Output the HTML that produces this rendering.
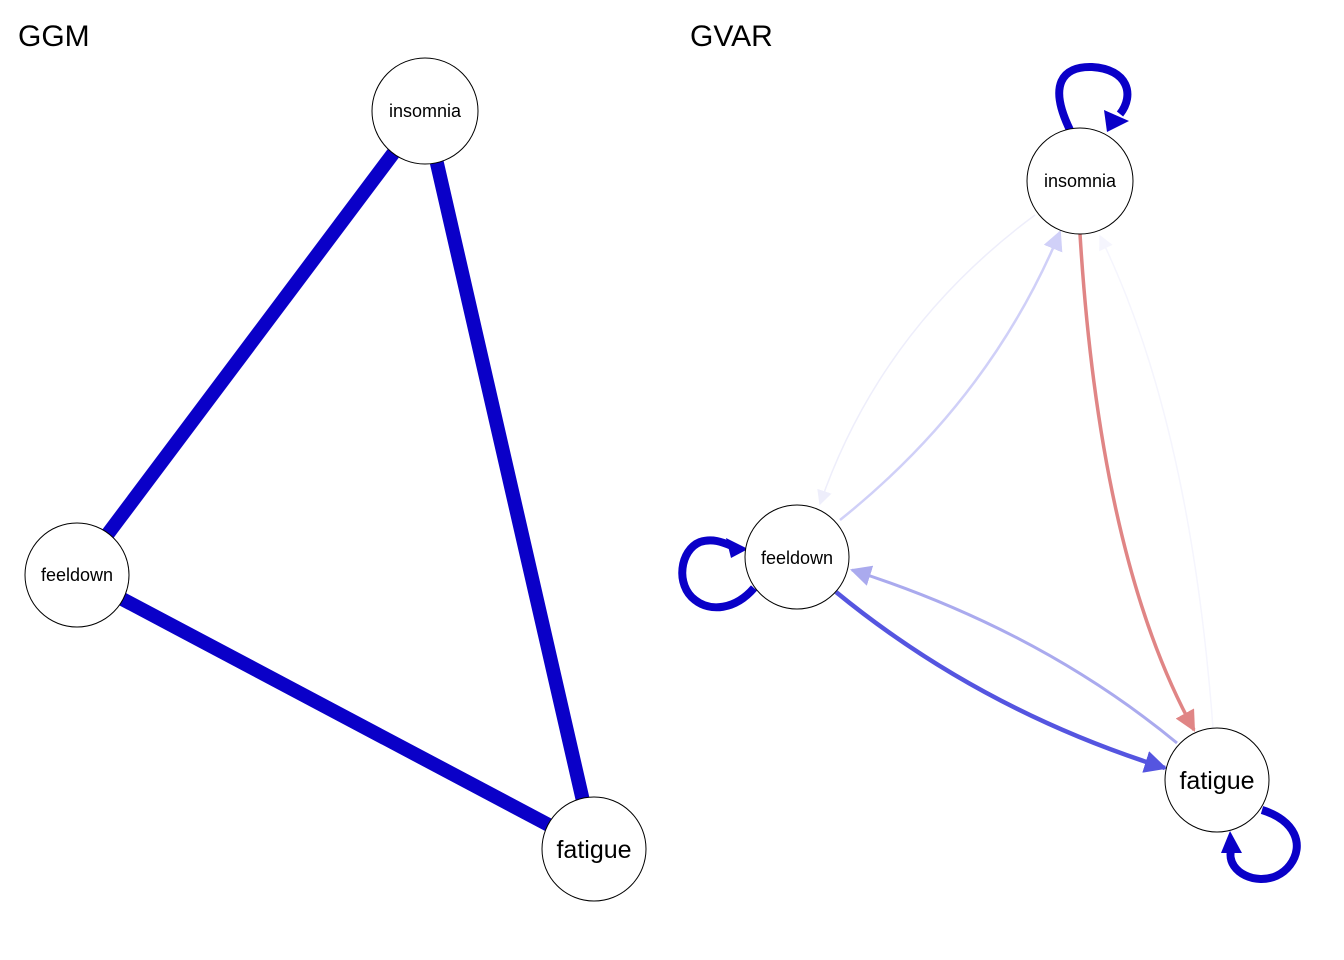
<!DOCTYPE html>
<html><head><style>body{margin:0;background:#fff}svg{display:block}</style></head><body>
<svg width="1344" height="960" xmlns="http://www.w3.org/2000/svg" font-family="Liberation Sans, sans-serif">
<defs>
<marker id="a2" viewBox="0 0 10 10" refX="9" refY="5" markerWidth="6" markerHeight="6" orient="auto"><path d="M0,0L10,5L0,10z" fill="#e08585"/></marker>
<marker id="a3" viewBox="0 0 10 10" refX="9" refY="5" markerWidth="8" markerHeight="8" orient="auto"><path d="M0,0L10,5L0,10z" fill="#d0d0f8"/></marker>
<marker id="a4" viewBox="0 0 10 10" refX="9" refY="5" markerWidth="10" markerHeight="10" orient="auto"><path d="M0,0L10,5L0,10z" fill="#eeeefb"/></marker>
<marker id="a5" viewBox="0 0 10 10" refX="9" refY="5" markerWidth="10" markerHeight="10" orient="auto"><path d="M0,0L10,5L0,10z" fill="#f5f5fd"/></marker>
<marker id="a6" viewBox="0 0 10 10" refX="9" refY="5" markerWidth="5" markerHeight="5" orient="auto"><path d="M0,0L10,5L0,10z" fill="#5555e0"/></marker>
<marker id="a7" viewBox="0 0 10 10" refX="9" refY="5" markerWidth="7" markerHeight="7" orient="auto"><path d="M0,0L10,5L0,10z" fill="#aaaaee"/></marker>
</defs>
<text x="18" y="46" font-size="30">GGM</text>
<text x="690" y="46" font-size="30">GVAR</text>
<g stroke="#0a00c8" stroke-width="14">
<line x1="425" y1="111" x2="77" y2="575"/>
<line x1="425" y1="111" x2="594" y2="849"/>
<line x1="77" y1="575" x2="594" y2="849"/>
</g>
<g fill="#fff" stroke="#000" stroke-width="1">
<circle cx="425" cy="111" r="53"/><circle cx="77" cy="575" r="52"/><circle cx="594" cy="849" r="52"/>
</g>
<text x="425" y="117" font-size="18" text-anchor="middle">insomnia</text>
<text x="77" y="581" font-size="18" text-anchor="middle">feeldown</text>
<text x="594" y="858" font-size="25" text-anchor="middle">fatigue</text>

<g fill="none">
<path d="M1035,215 Q880,330 820,504" stroke="#eeeefb" stroke-width="1.5" marker-end="url(#a4)"/>
<path d="M1213,728 Q1190,420 1100,236" stroke="#f5f5fd" stroke-width="1.5" marker-end="url(#a5)"/>
<path d="M840,520 Q990,400 1060,232" stroke="#d0d0f8" stroke-width="2.5" marker-end="url(#a3)"/>
<path d="M1080,234 Q1100,560 1194,730" stroke="#e08585" stroke-width="3.5" marker-end="url(#a2)"/>
<path d="M1177,743 Q1040,630 852,570" stroke="#aaaaee" stroke-width="3" marker-end="url(#a7)"/>
<path d="M836,592 Q980,710 1165,768" stroke="#5555e0" stroke-width="4.5" marker-end="url(#a6)"/>
<g stroke="#0a00c8" stroke-width="8">
<path d="M1070,130 C1048,85 1062,66 1092,67 C1128,69 1135,95 1120,114"/>
<path d="M754,588 C735,610 710,612 695,600 C675,585 680,550 700,542 C712,538 722,542 732,546"/>
<path d="M1262,810 C1295,820 1305,845 1290,865 C1275,885 1245,882 1234,866 C1230,860 1230,855 1231,850"/>
</g>
</g>
<g fill="#0a00c8">
<polygon points="1107,132 1104,110 1129,121"/>
<polygon points="748,549 726,538 731,558"/>
<polygon points="1230,831 1221,853 1242,853"/>
</g>
<g fill="#fff" stroke="#000" stroke-width="1">
<circle cx="1080" cy="181" r="53"/><circle cx="797" cy="557" r="52"/><circle cx="1217" cy="780" r="52"/>
</g>
<text x="1080" y="187" font-size="18" text-anchor="middle">insomnia</text>
<text x="797" y="564" font-size="18" text-anchor="middle">feeldown</text>
<text x="1217" y="789" font-size="25" text-anchor="middle">fatigue</text>
</svg>
</body></html>
